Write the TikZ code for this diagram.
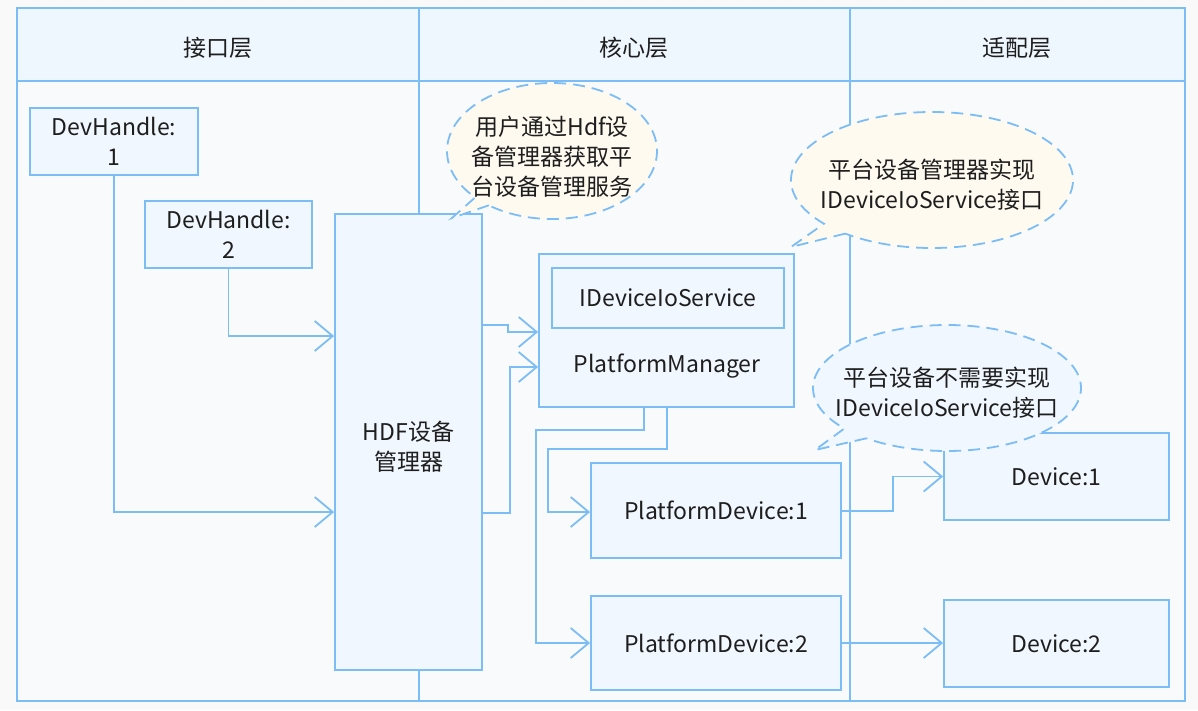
\documentclass[tikz,border=0pt]{standalone}
\usepackage{fontspec}
\setmainfont{Noto Sans CJK SC}
\usetikzlibrary{arrows.meta,calc}
\definecolor{ln}{HTML}{7DBDF5}
\definecolor{hdr}{HTML}{EEF6FE}
\definecolor{bodyc}{HTML}{F8FAFC}
\definecolor{boxc}{HTML}{F0F7FE}
\definecolor{bg}{HTML}{F9F9F9}
\definecolor{cream}{HTML}{FEFAF0}
\definecolor{txt}{HTML}{1E1E1E}
\tikzset{
  frame/.style={draw=ln,line width=2pt},
  box/.style={draw=ln,fill=boxc,line width=1.8pt,text=txt,align=center,font=\fontsize{23}{30}\selectfont,inner sep=0pt},
  lbl/.style={text=txt,align=center,font=\fontsize{23}{30}\selectfont,inner sep=0pt},
  arr/.style={draw=ln,line width=1.8pt,-{Straight Barb[length=18pt,width=30pt,line width=1.8pt]}},
  bubble/.style={draw=ln,line width=1.8pt,dash pattern=on 12pt off 7pt},
}
\begin{document}
\begin{tikzpicture}[x=1pt,y=-1pt]
\useasboundingbox (0,0) rectangle (1198,710);
\fill[bg] (0,0) rectangle (1198,710);
% body and header
\fill[bodyc] (17,81) rectangle (1185,701);
\fill[hdr] (17,8) rectangle (1185,81);
\draw[frame] (17,8) rectangle (1185,701);
\draw[frame] (17,81) -- (1185,81);
\draw[frame] (419,8) -- (419,701);
\draw[frame] (850,8) -- (850,701);
\node[lbl] (h1) at (218,48) {接口层};
\node[lbl] (h2) at (634,48) {核心层};
\node[lbl] (h3) at (1017,48) {适配层};
% nodes
\node[box,minimum width=168pt,minimum height=67pt] (dh1) at (114,141.5) {DevHandle:\\1};
\node[box,minimum width=167pt,minimum height=67pt] (dh2) at (228.5,234.5) {DevHandle:\\2};
\node[box,minimum width=147pt,minimum height=456pt] (hdf) at (408.5,442) {};
\node[lbl] (hdft) at (408.5,447) {HDF设备\\管理器};
\node[box,minimum width=255pt,minimum height=153pt] (pm) at (666.5,330.5) {};
\node[box,minimum width=232pt,minimum height=60pt] (ios) at (668,298) {IDeviceIoService};
\node[lbl] (pmt) at (667,366) {PlatformManager};
\node[box,minimum width=250pt,minimum height=95pt] (pd1) at (716,510.5) {PlatformDevice:1};
\node[box,minimum width=250pt,minimum height=94pt] (pd2) at (716,643) {PlatformDevice:2};
\node[box,minimum width=225pt,minimum height=87pt] (dev1) at (1056.5,476.5) {Device:1};
\node[box,minimum width=225pt,minimum height=87pt] (dev2) at (1056.5,643.5) {Device:2};
% connectors
\draw[arr] (dh1.south) |- (hdf.west |- 0,512);
\draw[arr] (dh2.south) |- (hdf.west |- 0,336);
\draw[arr] (hdf.east |- 0,325) -- (508,325) |- (pm.west |- 0,332);
\draw[arr] (hdf.east |- 0,513) -- (510,513) |- (pm.west |- 0,367);
\draw[arr] (pm.south -| 644,0) |- (536,430) |- (pd2.west |- 0,643);
\draw[arr] (pm.south -| 667,0) |- (548,449) |- (pd1.west |- 0,512);
\draw[arr] (pd1.east |- 0,511) -- (893,511) |- (dev1.west);
\draw[arr] (pd2.east |- 0,643) -- (dev2.west |- 0,643);
% bubbles
\coordinate (b1) at (552,151);
\coordinate (t1) at (452,218);
\filldraw[bubble,fill=cream] (b1) ++(127:105 and 68) -- (t1) -- ($(b1)+(137:105 and 68)$) arc[start angle=137,end angle=487,x radius=105,y radius=68] -- cycle;
\node[lbl] (b1t) at (552,157) {用户通过Hdf设\\备管理器获取平\\台设备管理服务};
\coordinate (b2) at (932,180);
\coordinate (t2) at (791,247);
\filldraw[bubble,fill=cream] (b2) ++(128:141 and 68) -- (t2) -- ($(b2)+(140:141 and 68)$) arc[start angle=140,end angle=488,x radius=141,y radius=68] -- cycle;
\node[lbl] (b2t) at (932,185) {平台设备管理器实现\\IDeviceIoService接口};
\coordinate (b3) at (947,388);
\coordinate (t3) at (815,450);
\filldraw[bubble,fill=boxc] (b3) ++(127:134 and 63) -- (t3) -- ($(b3)+(140:134 and 63)$) arc[start angle=140,end angle=487,x radius=134,y radius=63] -- cycle;
\node[lbl] (b3t) at (947,393) {平台设备不需要实现\\IDeviceIoService接口};
\end{tikzpicture}
\end{document}
